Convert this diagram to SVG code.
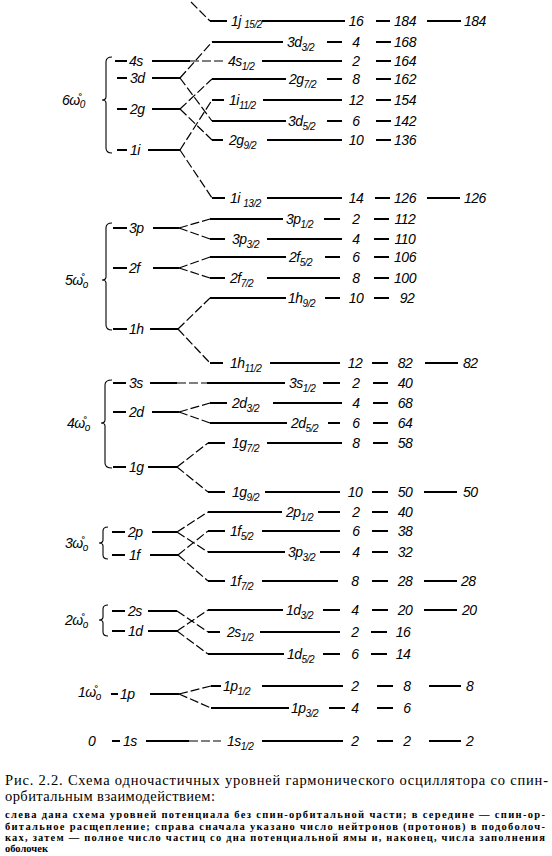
<svg xmlns="http://www.w3.org/2000/svg" width="552" height="856" viewBox="0 0 552 856">
<style>
.lv{stroke:#000;stroke-width:2;fill:none}
.br{stroke:#000;stroke-width:1.2;stroke-dasharray:9 3;fill:none}
.bc{stroke:#000;stroke-width:1.1;fill:none}
.t{font-family:"Liberation Sans",Arial,sans-serif;font-style:italic;font-size:14px;letter-spacing:-0.5px;fill:#000}
.s{font-size:10px}
.n{text-anchor:middle}
.cap{font-family:"Liberation Serif","Times New Roman",serif;font-size:14.5px;fill:#000}
.cs{font-family:"Liberation Serif","Times New Roman",serif;font-size:10.5px;font-weight:bold;fill:#000}
</style>
<rect width="552" height="856" fill="#fff"/>

<!-- Oscillator shells (left) -->
<g id="shell6">
<path class="bc" d="M112 57 Q106 57 106 62 L106 97 Q106 100 102 100 Q106 100 106 103 L106 148 Q106 153 112 153"/>
<text class="t" x="62" y="105">6ω̊<tspan class="s" dy="3">0</tspan></text>
</g>
<g id="L4s"><line class="lv" x1="115" y1="61" x2="127" y2="61"/><text class="t" x="129" y="66">4s</text><line class="lv" x1="152" y1="61" x2="190" y2="61"/></g>
<g id="L3d"><line class="lv" x1="117" y1="78" x2="127" y2="78"/><text class="t" x="130" y="83">3d</text><line class="lv" x1="152" y1="78" x2="180" y2="78"/></g>
<g id="L2g"><line class="lv" x1="117" y1="109" x2="127" y2="109"/><text class="t" x="130" y="114">2g</text><line class="lv" x1="152" y1="109" x2="180" y2="109"/></g>
<g id="L1i"><line class="lv" x1="117" y1="150" x2="127" y2="150"/><text class="t" x="130" y="155">1i</text><line class="lv" x1="148" y1="150" x2="180" y2="150"/></g>

<g id="shell5">
<path class="bc" d="M112 223 Q106 223 106 228 L106 277 Q106 280 102 280 Q106 280 106 283 L106 325 Q106 330 112 330"/>
<text class="t" x="65" y="285">5ω̊<tspan class="s" dy="3">o</tspan></text>
</g>
<g id="L3p"><line class="lv" x1="113" y1="228" x2="127" y2="228"/><text class="t" x="129" y="233">3p</text><line class="lv" x1="153" y1="228" x2="179" y2="228"/></g>
<g id="L2f"><line class="lv" x1="113" y1="268" x2="127" y2="268"/><text class="t" x="129" y="273">2f</text><line class="lv" x1="153" y1="268" x2="179" y2="268"/></g>
<g id="L1h"><line class="lv" x1="113" y1="329" x2="127" y2="329"/><text class="t" x="129" y="334">1h</text><line class="lv" x1="150" y1="329" x2="178" y2="329"/></g>

<g id="shell4">
<path class="bc" d="M112 380 Q105 380 105 385 L105 420 Q105 423 101 423 Q105 423 105 426 L105 463 Q105 468 112 468"/>
<text class="t" x="67" y="428">4ω̊<tspan class="s" dy="3">o</tspan></text>
</g>
<g id="L3s"><line class="lv" x1="113" y1="383" x2="126" y2="383"/><text class="t" x="129" y="388">3s</text><line class="lv" x1="150" y1="383" x2="177" y2="383"/></g>
<g id="L2d"><line class="lv" x1="113" y1="412" x2="126" y2="412"/><text class="t" x="129" y="417">2d</text><line class="lv" x1="152" y1="412" x2="179" y2="412"/></g>
<g id="L1g"><line class="lv" x1="113" y1="467" x2="126" y2="467"/><text class="t" x="129" y="472">1g</text><line class="lv" x1="148" y1="467" x2="177" y2="467"/></g>

<g id="shell3">
<path class="bc" d="M108 527 Q103 527 103 531 L103 540 Q103 543 99 543 Q103 543 103 546 L103 555 Q103 559 108 559"/>
<text class="t" x="65" y="548">3ω̊<tspan class="s" dy="3">o</tspan></text>
</g>
<g id="L2p"><line class="lv" x1="112" y1="532" x2="125" y2="532"/><text class="t" x="128" y="537">2p</text><line class="lv" x1="152" y1="532" x2="177" y2="532"/></g>
<g id="L1f"><line class="lv" x1="112" y1="555" x2="125" y2="555"/><text class="t" x="129" y="560">1f</text><line class="lv" x1="150" y1="555" x2="178" y2="555"/></g>

<g id="shell2">
<path class="bc" d="M108 605 Q103 605 103 609 L103 617 Q103 620 99 620 Q103 620 103 623 L103 632 Q103 636 108 636"/>
<text class="t" x="65" y="625">2ω̊<tspan class="s" dy="3">o</tspan></text>
</g>
<g id="L2s"><line class="lv" x1="112" y1="611" x2="125" y2="611"/><text class="t" x="128" y="616">2s</text><line class="lv" x1="148" y1="611" x2="177" y2="611"/></g>
<g id="L1d"><line class="lv" x1="112" y1="631" x2="125" y2="631"/><text class="t" x="128" y="636">1d</text><line class="lv" x1="148" y1="631" x2="177" y2="631"/></g>

<g id="shell1">
<text class="t" x="78" y="697">1ω̊<tspan class="s" dy="3">o</tspan></text>
</g>
<g id="L1p"><line class="lv" x1="111" y1="694" x2="118" y2="694"/><text class="t" x="120" y="699">1p</text><line class="lv" x1="150" y1="694" x2="179" y2="694"/></g>
<g id="shell0"><text class="t" x="88" y="746">0</text></g>
<g id="L1s"><line class="lv" x1="112" y1="741" x2="120" y2="741"/><text class="t" x="123" y="746">1s</text><line class="lv" x1="146" y1="741" x2="189" y2="741"/></g>

<!-- Connectors (spin-orbit splitting) -->
<g id="connectors">
<line class="br" x1="191" y1="2" x2="210" y2="21"/>
<line class="br" x1="180" y1="78" x2="212" y2="42"/>
<line class="br" x1="180" y1="78" x2="212" y2="121"/>
<line class="br" x1="190" y1="61" x2="226" y2="61"/>
<line class="br" x1="180" y1="109" x2="212" y2="79"/>
<line class="br" x1="180" y1="109" x2="212" y2="140"/>
<line class="br" x1="180" y1="150" x2="212" y2="100"/>
<line class="br" x1="180" y1="150" x2="212" y2="198"/>
<line class="br" x1="179" y1="228" x2="210" y2="219"/>
<line class="br" x1="179" y1="228" x2="210" y2="239"/>
<line class="br" x1="179" y1="268" x2="210" y2="257"/>
<line class="br" x1="179" y1="268" x2="210" y2="278"/>
<line class="br" x1="178" y1="329" x2="210" y2="298"/>
<line class="br" x1="178" y1="329" x2="210" y2="363"/>
<line class="br" x1="177" y1="383" x2="207" y2="383"/>
<line class="br" x1="179" y1="412" x2="210" y2="403"/>
<line class="br" x1="179" y1="412" x2="210" y2="423"/>
<line class="br" x1="177" y1="467" x2="208" y2="443"/>
<line class="br" x1="177" y1="467" x2="208" y2="492"/>
<line class="br" x1="177" y1="532" x2="208" y2="512"/>
<line class="br" x1="177" y1="532" x2="208" y2="552"/>
<line class="br" x1="178" y1="555" x2="208" y2="531"/>
<line class="br" x1="178" y1="555" x2="208" y2="581"/>
<line class="br" x1="177" y1="611" x2="208" y2="632"/>
<line class="br" x1="177" y1="631" x2="208" y2="610"/>
<line class="br" x1="177" y1="631" x2="208" y2="654"/>
<line class="br" x1="179" y1="694" x2="211" y2="686"/>
<line class="br" x1="179" y1="694" x2="211" y2="708"/>
<line class="br" x1="189" y1="741" x2="221" y2="741"/>
</g>

<!-- Split levels (right) -->
<g id="R1j15"><line class="lv" x1="210" y1="21" x2="227" y2="21"/><text class="t" x="231" y="26">1j <tspan class="s" dy="2">15/2</tspan></text><line class="lv" x1="262" y1="21" x2="345" y2="21"/>
<text class="t n" x="356" y="26">16</text><line class="lv" x1="376" y1="21" x2="390" y2="21"/><text class="t n" x="405" y="26">184</text><line class="lv" x1="427" y1="21" x2="461" y2="21"/><text class="t" x="464" y="26">184</text></g>

<g id="R3d3"><line class="lv" x1="212" y1="42" x2="283" y2="42"/><text class="t" x="287" y="47">3d<tspan class="s" dy="4">3/2</tspan></text><line class="lv" x1="327" y1="42" x2="342" y2="42"/>
<text class="t n" x="356" y="47">4</text><line class="lv" x1="376" y1="42" x2="391" y2="42"/><text class="t n" x="405" y="47">168</text></g>

<g id="R4s1"><text class="t" x="228" y="66">4s<tspan class="s" dy="4">1/2</tspan></text><line class="lv" x1="262" y1="61" x2="342" y2="61"/>
<text class="t n" x="356" y="66">2</text><line class="lv" x1="376" y1="61" x2="391" y2="61"/><text class="t n" x="405" y="66">164</text></g>

<g id="R2g7"><line class="lv" x1="212" y1="79" x2="286" y2="79"/><text class="t" x="289" y="84">2g<tspan class="s" dy="4">7/2</tspan></text><line class="lv" x1="327" y1="79" x2="342" y2="79"/>
<text class="t n" x="356" y="84">8</text><line class="lv" x1="376" y1="79" x2="391" y2="79"/><text class="t n" x="405" y="84">162</text></g>

<g id="R1i11"><line class="lv" x1="212" y1="100" x2="224" y2="100"/><text class="t" x="229" y="105">1i<tspan class="s" dy="4">11/2</tspan></text><line class="lv" x1="263" y1="100" x2="342" y2="100"/>
<text class="t n" x="356" y="105">12</text><line class="lv" x1="376" y1="100" x2="391" y2="100"/><text class="t n" x="405" y="105">154</text></g>

<g id="R3d5"><line class="lv" x1="212" y1="121" x2="286" y2="121"/><text class="t" x="288" y="126">3d<tspan class="s" dy="4">5/2</tspan></text><line class="lv" x1="327" y1="121" x2="342" y2="121"/>
<text class="t n" x="356" y="126">6</text><line class="lv" x1="376" y1="121" x2="391" y2="121"/><text class="t n" x="405" y="126">142</text></g>

<g id="R2g9"><line class="lv" x1="212" y1="140" x2="223" y2="140"/><text class="t" x="229" y="145">2g<tspan class="s" dy="4">9/2</tspan></text><line class="lv" x1="267" y1="140" x2="342" y2="140"/>
<text class="t n" x="356" y="145">10</text><line class="lv" x1="376" y1="140" x2="391" y2="140"/><text class="t n" x="405" y="145">136</text></g>

<g id="R1i13"><line class="lv" x1="212" y1="198" x2="225" y2="198"/><text class="t" x="230" y="203">1i <tspan class="s" dy="4">13/2</tspan></text><line class="lv" x1="267" y1="198" x2="342" y2="198"/>
<text class="t n" x="356" y="203">14</text><line class="lv" x1="375" y1="198" x2="390" y2="198"/><text class="t n" x="405" y="203">126</text><line class="lv" x1="427" y1="198" x2="460" y2="198"/><text class="t" x="464" y="203">126</text></g>

<g id="R3p1"><line class="lv" x1="210" y1="219" x2="283" y2="219"/><text class="t" x="286" y="224">3p<tspan class="s" dy="4">1/2</tspan></text><line class="lv" x1="324" y1="219" x2="340" y2="219"/>
<text class="t n" x="356" y="224">2</text><line class="lv" x1="374" y1="219" x2="389" y2="219"/><text class="t n" x="405" y="224">112</text></g>

<g id="R3p3a"><line class="lv" x1="210" y1="239" x2="225" y2="239"/><text class="t" x="232" y="244">3p<tspan class="s" dy="4">3/2</tspan></text><line class="lv" x1="267" y1="239" x2="342" y2="239"/>
<text class="t n" x="356" y="244">4</text><line class="lv" x1="374" y1="239" x2="389" y2="239"/><text class="t n" x="405" y="244">110</text></g>

<g id="R2f5"><line class="lv" x1="210" y1="257" x2="286" y2="257"/><text class="t" x="289" y="262">2f<tspan class="s" dy="4">5/2</tspan></text><line class="lv" x1="325" y1="257" x2="340" y2="257"/>
<text class="t n" x="356" y="262">6</text><line class="lv" x1="374" y1="257" x2="389" y2="257"/><text class="t n" x="405" y="262">106</text></g>

<g id="R2f7"><line class="lv" x1="210" y1="278" x2="225" y2="278"/><text class="t" x="230" y="283">2f<tspan class="s" dy="4">7/2</tspan></text><line class="lv" x1="267" y1="278" x2="340" y2="278"/>
<text class="t n" x="356" y="283">8</text><line class="lv" x1="374" y1="278" x2="389" y2="278"/><text class="t n" x="405" y="283">100</text></g>

<g id="R1h9"><line class="lv" x1="210" y1="298" x2="286" y2="298"/><text class="t" x="288" y="303">1h<tspan class="s" dy="4">9/2</tspan></text><line class="lv" x1="325" y1="298" x2="340" y2="298"/>
<text class="t n" x="356" y="303">10</text><line class="lv" x1="374" y1="298" x2="389" y2="298"/><text class="t n" x="407" y="303">92</text></g>

<g id="R1h11"><line class="lv" x1="210" y1="363" x2="223" y2="363"/><text class="t" x="230" y="368">1h<tspan class="s" dy="4">11/2</tspan></text><line class="lv" x1="270" y1="363" x2="340" y2="363"/>
<text class="t n" x="355" y="368">12</text><line class="lv" x1="372" y1="363" x2="388" y2="363"/><text class="t n" x="405" y="368">82</text><line class="lv" x1="425" y1="363" x2="458" y2="363"/><text class="t" x="463" y="368">82</text></g>

<g id="R3s1"><line class="lv" x1="207" y1="383" x2="285" y2="383"/><text class="t" x="289" y="388">3s<tspan class="s" dy="4">1/2</tspan></text><line class="lv" x1="323" y1="383" x2="340" y2="383"/>
<text class="t n" x="356" y="388">2</text><line class="lv" x1="373" y1="383" x2="388" y2="383"/><text class="t n" x="405" y="388">40</text></g>

<g id="R2d3"><line class="lv" x1="210" y1="403" x2="227" y2="403"/><text class="t" x="232" y="408">2d<tspan class="s" dy="4">3/2</tspan></text><line class="lv" x1="273" y1="403" x2="342" y2="403"/>
<text class="t n" x="356" y="408">4</text><line class="lv" x1="373" y1="403" x2="388" y2="403"/><text class="t n" x="405" y="408">68</text></g>

<g id="R2d5"><line class="lv" x1="210" y1="423" x2="287" y2="423"/><text class="t" x="291" y="428">2d<tspan class="s" dy="4">5/2</tspan></text><line class="lv" x1="328" y1="423" x2="340" y2="423"/>
<text class="t n" x="356" y="428">6</text><line class="lv" x1="373" y1="423" x2="388" y2="423"/><text class="t n" x="405" y="428">64</text></g>

<g id="R1g7"><line class="lv" x1="208" y1="443" x2="225" y2="443"/><text class="t" x="232" y="448">1g<tspan class="s" dy="4">7/2</tspan></text><line class="lv" x1="267" y1="443" x2="342" y2="443"/>
<text class="t n" x="356" y="448">8</text><line class="lv" x1="373" y1="443" x2="388" y2="443"/><text class="t n" x="405" y="448">58</text></g>

<g id="R1g9"><line class="lv" x1="208" y1="492" x2="225" y2="492"/><text class="t" x="232" y="497">1g<tspan class="s" dy="4">9/2</tspan></text><line class="lv" x1="265" y1="492" x2="340" y2="492"/>
<text class="t n" x="355" y="497">10</text><line class="lv" x1="372" y1="492" x2="388" y2="492"/><text class="t n" x="405" y="497">50</text><line class="lv" x1="424" y1="492" x2="457" y2="492"/><text class="t" x="463" y="497">50</text></g>

<g id="R2p1"><line class="lv" x1="208" y1="512" x2="282" y2="512"/><text class="t" x="286" y="517">2p<tspan class="s" dy="4">1/2</tspan></text><line class="lv" x1="318" y1="512" x2="340" y2="512"/>
<text class="t n" x="356" y="517">2</text><line class="lv" x1="372" y1="512" x2="388" y2="512"/><text class="t n" x="405" y="517">40</text></g>

<g id="R1f5"><line class="lv" x1="208" y1="531" x2="225" y2="531"/><text class="t" x="230" y="536">1f<tspan class="s" dy="4">5/2</tspan></text><line class="lv" x1="262" y1="531" x2="340" y2="531"/>
<text class="t n" x="356" y="536">6</text><line class="lv" x1="372" y1="531" x2="388" y2="531"/><text class="t n" x="405" y="536">38</text></g>

<g id="R3p3b"><line class="lv" x1="208" y1="552" x2="285" y2="552"/><text class="t" x="288" y="557">3p<tspan class="s" dy="4">3/2</tspan></text><line class="lv" x1="320" y1="552" x2="340" y2="552"/>
<text class="t n" x="356" y="557">4</text><line class="lv" x1="372" y1="552" x2="388" y2="552"/><text class="t n" x="405" y="557">32</text></g>

<g id="R1f7"><line class="lv" x1="208" y1="581" x2="225" y2="581"/><text class="t" x="230" y="586">1f<tspan class="s" dy="4">7/2</tspan></text><line class="lv" x1="262" y1="581" x2="338" y2="581"/>
<text class="t n" x="355" y="586">8</text><line class="lv" x1="372" y1="581" x2="388" y2="581"/><text class="t n" x="405" y="586">28</text><line class="lv" x1="424" y1="581" x2="457" y2="581"/><text class="t" x="461" y="586">28</text></g>

<g id="R1d3"><line class="lv" x1="208" y1="610" x2="283" y2="610"/><text class="t" x="286" y="615">1d<tspan class="s" dy="4">3/2</tspan></text><line class="lv" x1="323" y1="610" x2="340" y2="610"/>
<text class="t n" x="355" y="615">4</text><line class="lv" x1="372" y1="610" x2="388" y2="610"/><text class="t n" x="405" y="615">20</text><line class="lv" x1="424" y1="610" x2="457" y2="610"/><text class="t" x="462" y="615">20</text></g>

<g id="R2s1"><line class="lv" x1="208" y1="632" x2="220" y2="632"/><text class="t" x="227" y="637">2s<tspan class="s" dy="4">1/2</tspan></text><line class="lv" x1="260" y1="632" x2="340" y2="632"/>
<text class="t n" x="355" y="637">2</text><line class="lv" x1="371" y1="632" x2="387" y2="632"/><text class="t n" x="403" y="637">16</text></g>

<g id="R1d5"><line class="lv" x1="208" y1="654" x2="284" y2="654"/><text class="t" x="287" y="659">1d<tspan class="s" dy="4">5/2</tspan></text><line class="lv" x1="323" y1="654" x2="340" y2="654"/>
<text class="t n" x="355" y="659">6</text><line class="lv" x1="371" y1="654" x2="387" y2="654"/><text class="t n" x="403" y="659">14</text></g>

<g id="R1p1"><line class="lv" x1="211" y1="686" x2="221" y2="686"/><text class="t" x="223" y="691">1p<tspan class="s" dy="4">1/2</tspan></text><line class="lv" x1="262" y1="686" x2="343" y2="686"/>
<text class="t n" x="355" y="691">2</text><line class="lv" x1="377" y1="686" x2="393" y2="686"/><text class="t n" x="407" y="691">8</text><line class="lv" x1="429" y1="686" x2="461" y2="686"/><text class="t" x="466" y="691">8</text></g>

<g id="R1p3"><line class="lv" x1="211" y1="708" x2="289" y2="708"/><text class="t" x="291" y="713">1p<tspan class="s" dy="4">3/2</tspan></text><line class="lv" x1="329" y1="708" x2="345" y2="708"/>
<text class="t n" x="355" y="713">4</text><line class="lv" x1="377" y1="708" x2="393" y2="708"/><text class="t n" x="407" y="713">6</text></g>

<g id="R1s1"><text class="t" x="227" y="746">1s<tspan class="s" dy="4">1/2</tspan></text><line class="lv" x1="262" y1="741" x2="343" y2="741"/>
<text class="t n" x="355" y="746">2</text><line class="lv" x1="377" y1="741" x2="393" y2="741"/><text class="t n" x="407" y="746">2</text><line class="lv" x1="429" y1="741" x2="461" y2="741"/><text class="t" x="466" y="746">2</text></g>

<!-- Caption -->
<g id="caption">
<text class="cap" x="5" y="785" textLength="543" lengthAdjust="spacing">Рис. 2.2. Схема одночастичных уровней гармонического осциллятора со спин-</text>
<text class="cap" x="5" y="801" textLength="210" lengthAdjust="spacing">орбитальным взаимодействием:</text>
<text class="cs" x="5" y="818" textLength="540" lengthAdjust="spacing">слева дана схема уровней потенциала без спин-орбитальной части; в середине — спин-ор-</text>
<text class="cs" x="5" y="830" textLength="540" lengthAdjust="spacing">битальное расщепление; справа сначала указано число нейтронов (протонов) в подоболоч-</text>
<text class="cs" x="5" y="841" textLength="540" lengthAdjust="spacing">ках, затем — полное число частиц со дна потенциальной ямы и, наконец, числа заполнения</text>
<text class="cs" x="5" y="852">оболочек</text>
</g>
</svg>
